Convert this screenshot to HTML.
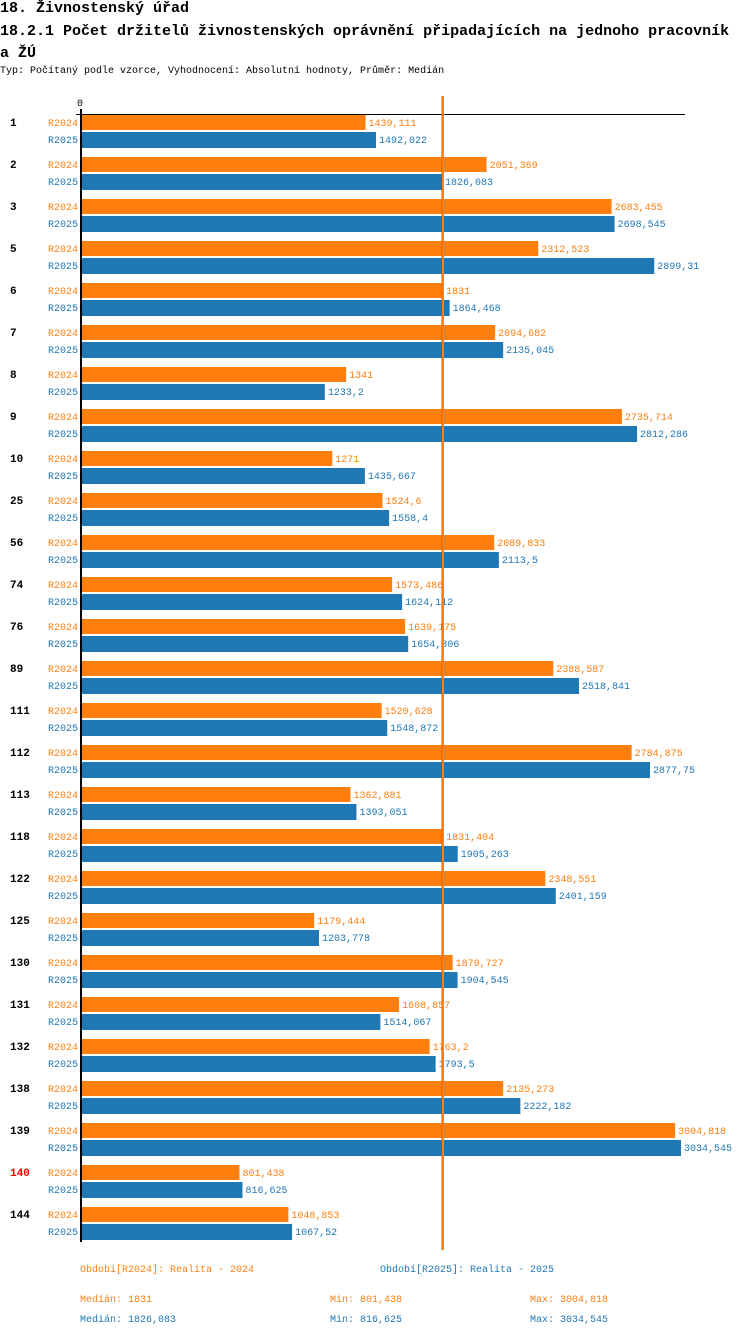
<!DOCTYPE html>
<html><head><meta charset="utf-8">
<style>
body{margin:0;background:#fff;width:750px;height:1338px;overflow:hidden;font-family:"Liberation Mono",monospace;}
.t{position:absolute;white-space:nowrap;}
</style></head>
<body>
<div class="t" style="left:0;top:0;font-size:15px;font-weight:bold;line-height:18px;">18. Živnostenský úřad</div>
<div class="t" style="left:0;top:21px;font-size:15px;font-weight:bold;line-height:22px;white-space:normal;width:735px;">18.2.1 Počet držitelů živnostenských oprávnění připadajících na jednoho pracovník a ŽÚ</div>
<div class="t" style="left:0;top:66px;font-size:10px;">Typ: Počítaný podle vzorce, Vyhodnocení: Absolutní hodnoty, Průměr: Medián</div>
<svg id="chart" width="750" height="1338" style="position:absolute;left:0;top:0;font-family:'Liberation Mono',monospace;font-size:10px"></svg>
<script>
const categories=["1","2","3","5","6","7","8","9","10","25","56","74","76","89","111","112","113","118","122","125","130","131","132","138","139","140","144"];
const r2024=[1439.111,2051.369,2683.455,2312.523,1831,2094.682,1341,2735.714,1271,1524.6,2089.833,1573.486,1639.175,2388.587,1520.628,2784.875,1362.881,1831.404,2348.551,1179.444,1879.727,1608.857,1763.2,2135.273,3004.818,801.438,1048.853];
const r2025=[1492.022,1826.083,2698.545,2899.31,1864.468,2135.045,1233.2,2812.286,1435.667,1558.4,2113.5,1624.112,1654.806,2518.841,1548.872,2877.75,1393.051,1905.263,2401.159,1203.778,1904.545,1514.067,1793.5,2222.182,3034.545,816.625,1067.52];
const medians=[1831,1826.083];
const highlight="140";
const svgEl=document.getElementById('chart');
const NS="http://www.w3.org/2000/svg";
const X0=81, SCALE=600/3034.545;
const xs=v=>X0+v*SCALE;
const ys=i=>115+i*42;
const fmt=v=>String(Math.round(v*1000)/1000).replace('.',',');
function mk(tag,attrs){const e=document.createElementNS(NS,tag);for(const k in attrs)e.setAttribute(k,attrs[k]);svgEl.appendChild(e);return e;}
const zl=mk('text',{x:X0-1,y:106,'text-anchor':'middle'});zl.textContent='0';


const topLine=mk('line',{x1:76,y1:114.5,x2:685,y2:114.5,stroke:'#000','stroke-width':1});


const cols=['#ff7f0e','#1f77b4'];
const series=[r2024,r2025];
categories.forEach((c,i)=>{
  const g=mk('text',{x:10,y:ys(i)+11,'font-weight':'bold','font-size':'11',fill:c===highlight?'#ff0000':'#000'});
  g.textContent=c;
  
  
  series.forEach((s,k)=>{
    const by=ys(i)+k*17;
    const l=mk('text',{x:78,y:by+11,'text-anchor':'end',fill:cols[k]});
    l.textContent=k?'R2025':'R2024';
    
    
    const b=mk('rect',{x:X0,y:by,width:xs(s[i])-X0,height:k?16:15,fill:cols[k]});
    
    
    const v=mk('text',{x:xs(s[i])+3,y:by+11,fill:cols[k]});
    v.textContent=fmt(s[i]);
    
    
  });
});
const ax=mk('line',{x1:81,y1:109,x2:81,y2:1242,stroke:'#000','stroke-width':2});


[1,0].forEach(k=>{
  const m=mk('line',{x1:xs(medians[k]),y1:96,x2:xs(medians[k]),y2:1250,stroke:cols[k],'stroke-width':k?1:2});
  
  
});
</script>
<div class="t" style="left:80px;top:1265px;font-size:10px;color:#ff7f0e">Období[R2024]: Realita - 2024</div>
<div class="t" style="left:380px;top:1265px;font-size:10px;color:#1f77b4">Období[R2025]: Realita - 2025</div>
<div class="t" style="left:80px;top:1295px;font-size:10px;color:#ff7f0e">Medián: 1831</div>
<div class="t" style="left:330px;top:1295px;font-size:10px;color:#ff7f0e">Min: 801,438</div>
<div class="t" style="left:530px;top:1295px;font-size:10px;color:#ff7f0e">Max: 3004,818</div>
<div class="t" style="left:80px;top:1315px;font-size:10px;color:#1f77b4">Medián: 1826,083</div>
<div class="t" style="left:330px;top:1315px;font-size:10px;color:#1f77b4">Min: 816,625</div>
<div class="t" style="left:530px;top:1315px;font-size:10px;color:#1f77b4">Max: 3034,545</div>
</body></html>
